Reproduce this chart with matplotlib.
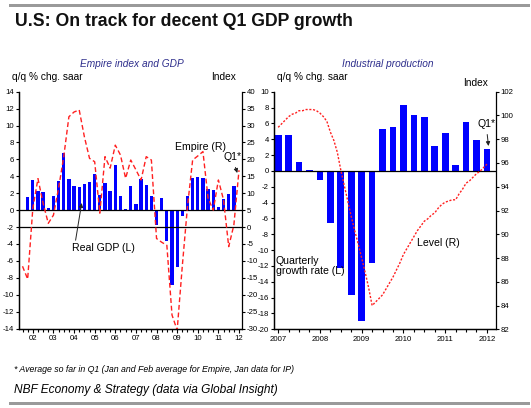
import matplotlib
matplotlib.use("Agg")
import matplotlib.pyplot as plt
import numpy as np
from matplotlib.patches import Rectangle
from matplotlib.ticker import MultipleLocator, FixedLocator

W, H = 531, 408
SANS = ['Liberation Sans', 'DejaVu Sans']
plt.rcParams['font.family'] = SANS
plt.rcParams['axes.unicode_minus'] = False

# ---------------- data ----------------
# Real GDP, q/q % chg saar, 2001Q4 .. 2011Q4
gdp_start = 2001.75
gdp = [1.5,
       3.6, 2.2, 2.1, 0.2,
       1.7, 3.5, 6.8, 3.7,
       2.8, 2.7, 3.1, 3.3,
       4.3, 1.8, 3.2, 2.2,
       5.3, 1.7, 0.1, 2.8,
       0.7, 3.7, 3.0, 1.7,
       -1.8, 1.4, -3.7, -8.9,
       -6.7, -0.7, 1.7, 3.8,
       3.9, 3.8, 2.5, 2.4,
       0.4, 1.3, 1.9, 2.8]
# Empire index, quarterly average, 2001Q3 .. 2012Q1
emp_start = 2001.5
empire = [-11.6, -15.4,
          5.5, 14.3, 7.0, 1.1,
          3.5, 11.5, 20.8, 32.6,
          34.0, 34.6, 26.7, 20.3,
          19.3, 4.1, 20.8, 17.4,
          24.2, 21.3, 14.4, 19.8,
          16.9, 13.9, 20.8, 19.8,
          -3.4, -4.5, -5.4, -26.0,
          -30.5, -11.5, 6.0, 19.8,
          21.0, 22.3, 8.5, 5.0,
          13.9, 8.0, -5.8, 0.6,
          16.8]
# Industrial production growth, q/q % chg saar, 2007Q1 .. 2012Q1
ip_start = 2007.0
ip_growth = [4.5, 4.5, 1.1, 0.15,
             -1.2, -6.6, -12.3, -15.7,
             -19.0, -11.6, 5.3, 5.6,
             8.3, 7.1, 6.8, 3.1,
             4.8, 0.8, 6.2, 3.9,
             2.8]
# Industrial production level, monthly, Jan 2007 .. Jan 2012
ip_level = [99.0, 99.3, 99.6, 99.9, 100.1, 100.2, 100.4, 100.4, 100.5, 100.5, 100.5, 100.4,
            100.2, 99.9, 99.5, 98.6, 97.9, 96.9, 95.4, 94.1, 92.8, 91.5, 90.3, 89.2,
            88.0, 86.8, 85.5, 84.0, 84.3, 84.6, 84.9, 85.4, 85.9, 86.4, 87.0, 87.6,
            88.3, 88.8, 89.3, 89.8, 90.3, 90.7, 91.1, 91.3, 91.6, 91.8, 92.2, 92.5,
            92.7, 92.8, 92.9, 92.9, 93.4, 93.8, 94.3, 94.5, 94.8, 95.1, 95.3, 95.6,
            95.9]
left_years = list(range(2002, 2013))
left_year_labels = ['02', '03', '04', '05', '06', '07', '08', '09', '10', '11', '12']
right_years = list(range(2007, 2013))
right_year_labels = ['2007', '2008', '2009', '2010', '2011', '2012']

gdp_x = gdp_start + 0.25 * np.arange(len(gdp))
emp_x = emp_start + 0.25 * np.arange(len(empire))
ipg_x = ip_start + 0.25 * np.arange(len(ip_growth))
ipl_x = ip_start + np.arange(len(ip_level)) / 12.0

BLUE = '#0000FF'
RED = '#FF2020'
SUB = '#2E2E8C'
TICK_FS = 5.6
ANN_FS = 7.6

fig = plt.figure(figsize=(W / 100, H / 100), dpi=100)


def ftext(x, y, s, **kw):
    fig.text(x / W, 1 - y / H, s, **kw)


# gray rules
fig.add_artist(Rectangle((9 / W, 1 - 7 / H), 521 / W, 3.5 / H, transform=fig.transFigure,
                         color='#9a9a9a', lw=0))
fig.add_artist(Rectangle((9 / W, 1 - 405 / H), 521 / W, 3.5 / H, transform=fig.transFigure,
                         color='#9a9a9a', lw=0))

ftext(15, 22, 'U.S: On track for decent Q1 GDP growth', fontsize=12.7, fontweight='bold',
      va='center', ha='left', color='#111111')
ftext(132, 64, 'Empire index and GDP', fontsize=7.3, style='italic', color=SUB,
      va='center', ha='center')
ftext(388, 64, 'Industrial production', fontsize=7.3, style='italic', color=SUB,
      va='center', ha='center')


def style_axes(ax, axr, years, labels, xlim):
    ax.set_xlim(*xlim)
    for a in (ax, axr):
        a.spines['top'].set_visible(False)
        for s in a.spines.values():
            s.set_linewidth(0.9)
    ax.spines['right'].set_visible(False)
    ax.xaxis.set_major_locator(FixedLocator(years))
    ax.set_xticklabels(labels)
    ax.xaxis.set_minor_locator(MultipleLocator(0.25))
    ax.tick_params(axis='x', which='major', length=3, width=0.8, direction='out', pad=2,
                   labelsize=TICK_FS)
    ax.tick_params(axis='x', which='minor', length=2, width=0.8, direction='out')
    ax.tick_params(axis='y', length=2.5, width=0.8, direction='out', pad=1.2,
                   labelsize=TICK_FS)
    axr.tick_params(axis='y', length=2.5, width=0.8, direction='out', pad=1.2,
                    labelsize=TICK_FS)


# ---------------- left chart ----------------
ax1 = fig.add_axes([19 / W, 1 - 328.5 / H, (241.7 - 19) / W, (328.5 - 91.7) / H])
ax1r = ax1.twinx()
ax1.bar(gdp_x, gdp, width=0.16, color=BLUE, zorder=2)
ax1.axhline(0, color='black', lw=0.9, zorder=5)
ax1.axhline(-2, color='black', lw=0.9, zorder=5)
ax1.set_ylim(-14, 14)
ax1.yaxis.set_major_locator(MultipleLocator(2))
ax1r.plot(emp_x, empire, color=RED, lw=1.0, ls=(0, (3.5, 2)))
ax1r.set_ylim(-30, 40)
ax1r.yaxis.set_major_locator(MultipleLocator(5))
style_axes(ax1, ax1r, left_years, left_year_labels, (2001.33, 2012.13))

ftext(12, 77, 'q/q % chg. saar', fontsize=7.3, va='center', ha='left')
ftext(211, 77, 'Index', fontsize=7.3, va='center', ha='left')

ftext(175, 147, 'Empire (R)', fontsize=ANN_FS, va='center', ha='left')
ax1r.annotate('Q1*', xy=(237.3 / W, 1 - 173 / H), xycoords='figure fraction',
              xytext=(223 / W, 1 - 157 / H), textcoords='figure fraction',
              fontsize=ANN_FS, va='center', ha='left',
              arrowprops=dict(arrowstyle='-|>', color='#222222', lw=0.7,
                              mutation_scale=6, shrinkA=2, shrinkB=0))
ax1r.annotate('Real GDP (L)', xy=(81.7 / W, 1 - 203 / H), xycoords='figure fraction',
              xytext=(72 / W, 1 - 248 / H), textcoords='figure fraction',
              fontsize=ANN_FS, va='center', ha='left',
              arrowprops=dict(arrowstyle='-|>', color='#222222', lw=0.7,
                              mutation_scale=6, shrinkA=0, shrinkB=0,
                              relpos=(0.05, 1.0)))

# ---------------- right chart ----------------
ax2 = fig.add_axes([274 / W, 1 - 329.3 / H, (495.7 - 274) / W, (329.3 - 91.7) / H])
ax2r = ax2.twinx()
ax2.bar(ipg_x, ip_growth, width=0.16, color=BLUE, zorder=2)
ax2.axhline(0, color='black', lw=0.9, zorder=5)
ax2.set_ylim(-20, 10)
ax2.yaxis.set_major_locator(MultipleLocator(2))
ax2r.plot(ipl_x, ip_level, color=RED, lw=1.0, ls=(0, (1.5, 1.2)))
ax2r.set_ylim(82, 102)
ax2r.yaxis.set_major_locator(MultipleLocator(2))
style_axes(ax2, ax2r, right_years, right_year_labels, (2006.9, 2012.21))

ftext(277, 77, 'q/q % chg. saar', fontsize=7.3, va='center', ha='left')
ftext(463, 83, 'Index', fontsize=7.3, va='center', ha='left')

ax2r.annotate('Q1*', xy=(488.5 / W, 1 - 146 / H), xycoords='figure fraction',
              xytext=(477 / W, 1 - 124 / H), textcoords='figure fraction',
              fontsize=ANN_FS, va='center', ha='left',
              arrowprops=dict(arrowstyle='-|>', color='#222222', lw=0.7,
                              mutation_scale=6, shrinkA=2, shrinkB=0))
ftext(417, 243, 'Level (R)', fontsize=ANN_FS, va='center', ha='left')
ftext(276, 266, 'Quarterly\ngrowth rate (L)', fontsize=ANN_FS, va='center', ha='left',
      linespacing=1.05)

ftext(14, 369, '* Average so far in Q1 (Jan and Feb average for Empire, Jan data for IP)',
      fontsize=6.3, style='italic', va='center', ha='left')
ftext(14, 390, 'NBF Economy & Strategy (data via Global Insight)', fontsize=8.6,
      style='italic', va='center', ha='left')

fig.savefig('out.png', dpi=100)
